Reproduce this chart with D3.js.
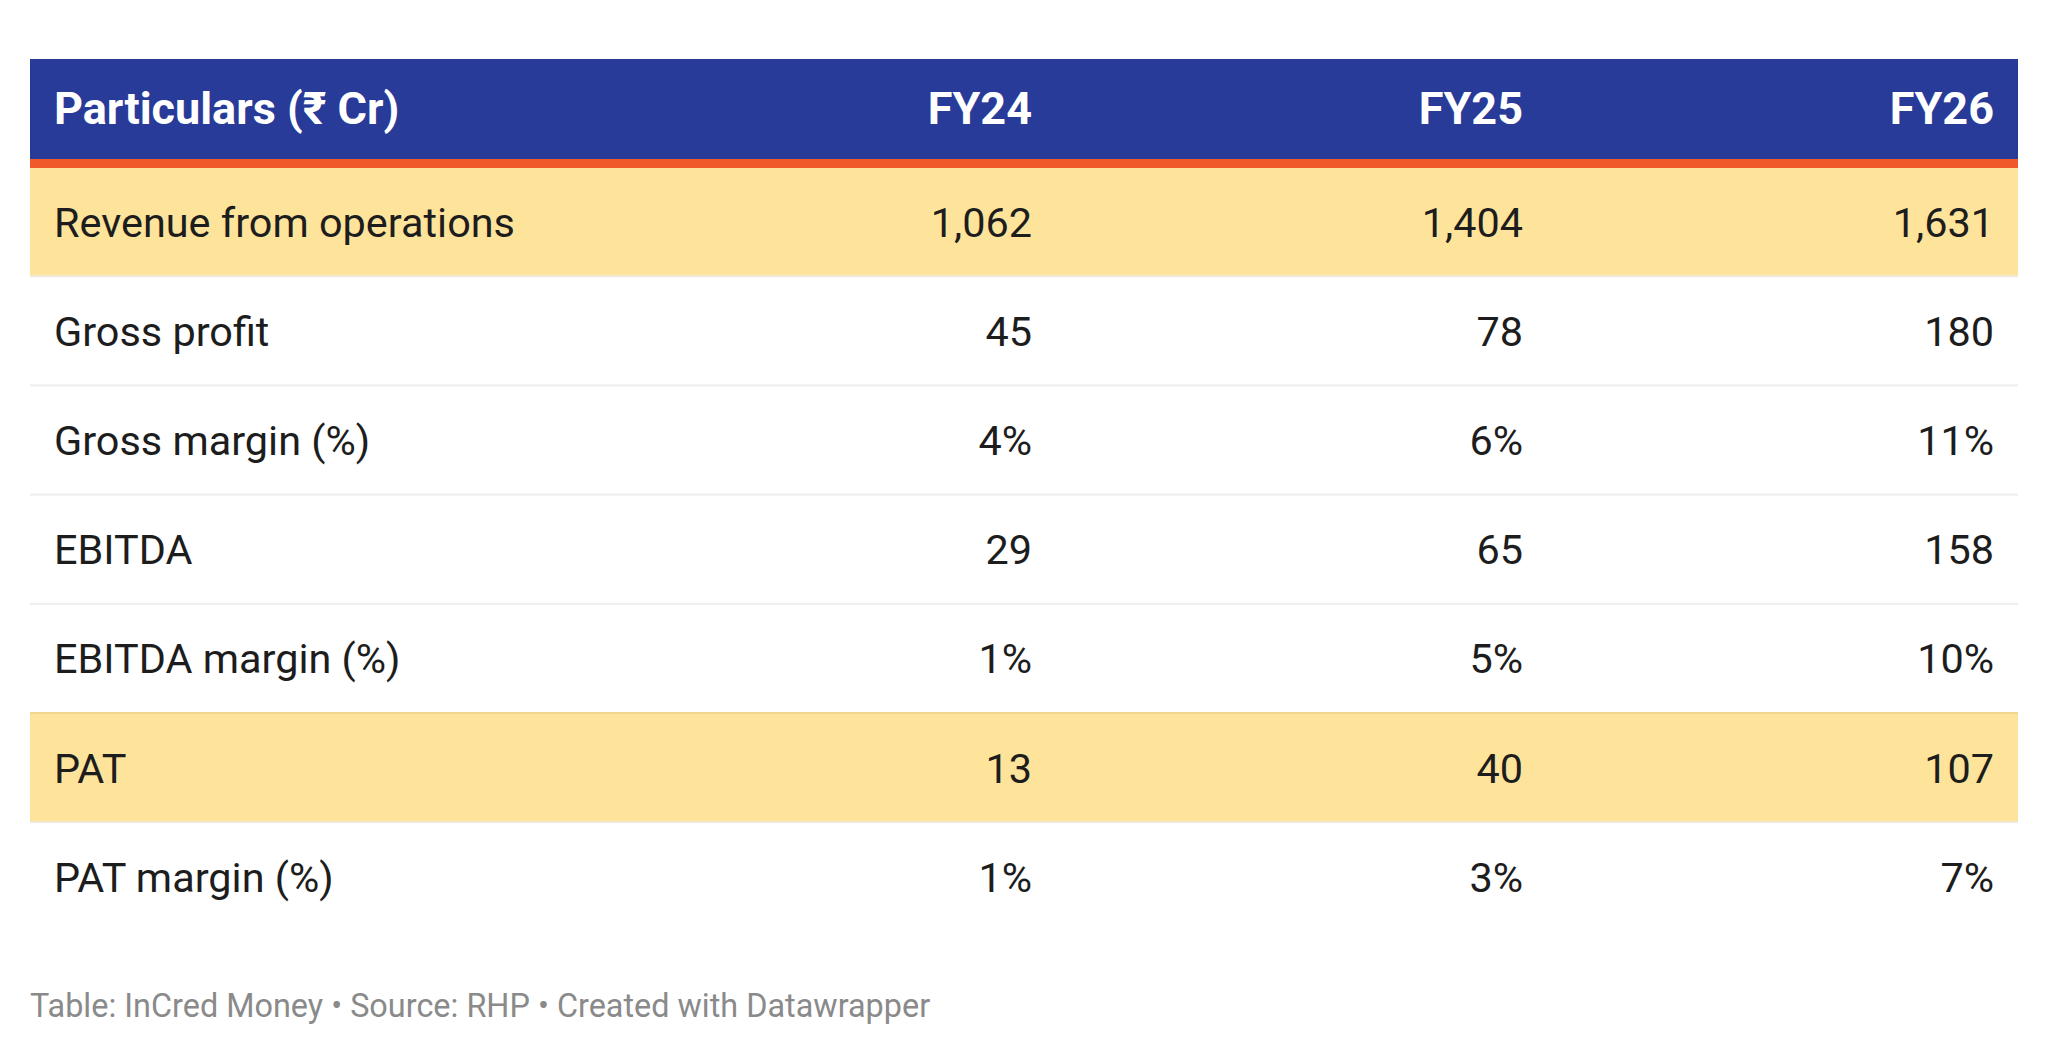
<!DOCTYPE html>
<html>
<head>
<meta charset="utf-8">
<script src="https://cdn.jsdelivr.net/npm/d3@7"></script>
<style>
  html, body { margin: 0; padding: 0; background: #ffffff; }
  svg { display: block; font-family: Roboto, "Noto Sans", sans-serif; }
</style>
</head>
<body>
<svg id="chart" width="2048" height="1056"></svg>
<script>
// ---- data ----
const headerLabel = "Particulars (₹ Cr)";
const years = ["FY24", "FY25", "FY26"];
const rowLabels = ["Revenue from operations", "Gross profit", "Gross margin (%)", "EBITDA", "EBITDA margin (%)", "PAT", "PAT margin (%)"];
const fy24 = ["1,062", "45", "4%", "29", "1%", "13", "1%"];
const fy25 = ["1,404", "78", "6%", "65", "5%", "40", "3%"];
const fy26 = ["1,631", "180", "11%", "158", "10%", "107", "7%"];
const highlighted = ["Revenue from operations", "PAT"];
const footerText = "Table: InCred Money • Source: RHP • Created with Datawrapper";

// ---- layout ----
const W = 2048, H = 1056;
const left = 30, right = 2018;
const headTop = 59, headBottom = 159, ruleH = 9;
const bodyTop = headBottom + ruleH;
const rowPitch = 109.2;
const padX = 24;

const svg = d3.select("#chart");

const cols = { "FY24": fy24, "FY25": fy25, "FY26": fy26 };

const y = d3.scaleBand()
  .domain(rowLabels)
  .range([bodyTop, bodyTop + rowPitch * rowLabels.length])
  .paddingInner(0).paddingOuter(0);

const xRight = d3.scaleOrdinal()
  .domain(years)
  .range([1032, 1523, 1994]);

// header background
svg.append("rect")
  .attr("x", left).attr("y", headTop)
  .attr("width", right - left).attr("height", headBottom - headTop)
  .attr("fill", "#283b98");
svg.append("rect")
  .attr("x", left).attr("y", headBottom)
  .attr("width", right - left).attr("height", ruleH)
  .attr("fill", "#f05a2b");

// header text
const headBase = headTop + 64.5;
svg.append("text")
  .attr("x", left + padX).attr("y", headBase)
  .attr("fill", "#ffffff").attr("font-weight", 700)
  .attr("font-size", 45)
  .text(headerLabel);
svg.selectAll("text.yh").data(years).join("text")
  .attr("class", "yh")
  .attr("x", d => xRight(d)).attr("y", headBase)
  .attr("text-anchor", "end")
  .attr("fill", "#ffffff").attr("font-weight", 700)
  .attr("font-size", 45)
  .text(d => d);

// rows
const rows = svg.selectAll("g.row").data(rowLabels).join("g").attr("class", "row");

rows.append("rect")
  .attr("x", left).attr("y", d => y(d))
  .attr("width", right - left).attr("height", y.bandwidth())
  .attr("fill", d => highlighted.includes(d) ? "#fee49b" : "#ffffff");

// separators (bottom of each row except last)
rows.filter((d, i) => i < rowLabels.length - 1)
  .append("rect")
  .attr("x", left).attr("y", d => y(d) + y.bandwidth() - 2)
  .attr("width", right - left).attr("height", 2.5)
  .attr("fill", d => {
    const next = rowLabels[rowLabels.indexOf(d) + 1];
    if (highlighted.includes(next)) return "#f0d78e";
    return highlighted.includes(d) ? "#efe9dc" : "#ededed";
  });

rows.append("text")
  .attr("x", left + padX).attr("y", d => y(d) + 68.5)
  .attr("font-size", 41.4).attr("fill", "#1d1d1d")
  .text(d => d);

years.forEach(yr => {
  rows.append("text")
    .attr("x", xRight(yr)).attr("y", d => y(d) + 68.5)
    .attr("text-anchor", "end")
    .attr("font-size", 41.4).attr("fill", "#1d1d1d")
    .text(d => cols[yr][rowLabels.indexOf(d)]);
});

// footer
svg.append("text")
  .attr("x", left).attr("y", 1017)
  .attr("font-size", 32.4).attr("fill", "#8a8a8a")
  .text(footerText);
</script>
</body>
</html>
